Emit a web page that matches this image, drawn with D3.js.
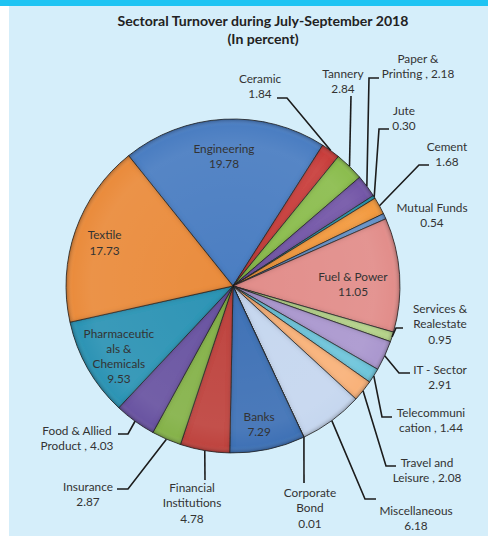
<!DOCTYPE html>
<html>
<head>
<meta charset="utf-8">
<script src="https://cdn.jsdelivr.net/npm/d3@7"></script>
<style>
  html, body { margin: 0; padding: 0; background: #ffffff; }
  svg { display: block; }
  text { font-family: Lato, "Open Sans", sans-serif; fill: #333333; }
</style>
</head>
<body>
<svg id="chart" width="488" height="538"></svg>
<script>
// Sector names and turnover shares (percent), clockwise from Engineering
const sectors = ["Engineering", "Ceramic", "Tannery", "Paper & Printing", "Jute", "Cement",
  "Mutual Funds", "Fuel & Power", "Services & Realestate", "IT - Sector", "Telecommunication",
  "Travel and Leisure", "Miscellaneous", "Corporate Bond", "Banks", "Financial Institutions",
  "Insurance", "Food & Allied Product", "Pharmaceuticals & Chemicals", "Textile"];
const shares = [19.78, 1.84, 2.84, 2.18, 0.30, 1.68, 0.54, 11.05, 0.95, 2.91, 1.44,
  2.08, 6.18, 0.01, 7.29, 4.78, 2.87, 4.03, 9.53, 17.73];
const labelLines = [
  ["Engineering", "19.78"], ["Ceramic", "1.84"], ["Tannery", "2.84"], ["Paper &", "Printing , 2.18"],
  ["Jute", "0.30"], ["Cement", "1.68"], ["Mutual Funds", "0.54"], ["Fuel & Power", "11.05"],
  ["Services &", "Realestate", "0.95"], ["IT - Sector", "2.91"], ["Telecommuni", "cation , 1.44"],
  ["Travel and", "Leisure , 2.08"], ["Miscellaneous", "6.18"], ["Corporate", "Bond", "0.01"],
  ["Banks", "7.29"], ["Financial", "Institutions", "4.78"], ["Insurance", "2.87"],
  ["Food & Allied", "Product , 4.03"], ["Pharmaceutic", "als &", "Chemicals", "9.53"], ["Textile", "17.73"]
];
const colors = ["#4b7ec2", "#c9403d", "#8cbd4f", "#7558a8", "#2fa4bd", "#f39a40",
  "#6d9bd6", "#e28e8b", "#b7d58c", "#ab98cf", "#6fc6dc", "#f9b27a",
  "#c6d7ef", "#4b7ec2", "#3f72b6", "#bf4441", "#86b34c", "#6b54a2", "#2f94b5", "#ea8c3e"];

// Layout: label placement
const W = 488, H = 538;
const cx = 233, cy = 286, R = 167;
const startDeg = -38.7;
// inside labels: radius fraction of R and a small nudge
const insideLabels = {
  "Engineering": { f: 0.78, dx: -2, dy: 0 },
  "Textile": { f: 0.815, dx: 0, dy: 2 },
  "Fuel & Power": { f: 0.72, dx: 0, dy: 6 },
  "Pharmaceuticals & Chemicals": { f: 0.80, dx: 2, dy: 4 },
  "Banks": { f: 0.84, dx: -3, dy: 1 }
};
// outside labels: text centre, first-line centre and leader bend points
const outsideLabels = {
  "Ceramic": { x: 260, y: 79, pts: [[287, 98], [277, 98]] },
  "Tannery": { x: 343, y: 74, pts: [[351, 96]] },
  "Paper & Printing": { x: 418, y: 59, pts: [[369, 78], [379, 78]] },
  "Jute": { x: 404, y: 111, pts: [[379, 129], [389, 129]] },
  "Cement": { x: 447, y: 147, pts: [[419, 165], [429, 165]] },
  "Mutual Funds": { x: 432, y: 208, pts: null },
  "Services & Realestate": { x: 440, y: 309, pts: [[396, 328], [403, 328]] },
  "IT - Sector": { x: 440, y: 370, pts: [[399, 373], [410, 373]] },
  "Telecommunication": { x: 431, y: 413, pts: [[382, 417], [392, 417]] },
  "Travel and Leisure": { x: 427, y: 463, pts: [[386, 466], [396, 466]] },
  "Miscellaneous": { x: 416, y: 511, pts: [[365, 499], [376, 499]] },
  "Corporate Bond": { x: 310, y: 493, pts: [[304, 483]] },
  "Financial Institutions": { x: 192, y: 488, pts: [[205, 480]] },
  "Insurance": { x: 88, y: 487, pts: [[128, 489], [117, 489]] },
  "Food & Allied Product": { x: 77, y: 431, pts: [[128, 434], [118, 434]] }
};
const lineH = 15.2;

const svg = d3.select("#chart");

// background: white page, cyan top rule, pale blue panel
svg.append("rect").attr("width", W).attr("height", H).attr("fill", "#ffffff");
svg.append("rect").attr("x", 9).attr("y", 6).attr("width", W - 9).attr("height", H - 8).attr("fill", "#d5eefa");
svg.append("rect").attr("x", 0).attr("y", 0).attr("width", W).attr("height", 6).attr("fill", "#1fc4f3");

// soft bevel: darken the inside of each slice's edges
const defs = svg.append("defs");
const flt = defs.append("filter").attr("id", "bevel").attr("x", "-5%").attr("y", "-5%").attr("width", "110%").attr("height", "110%");
flt.append("feGaussianBlur").attr("in", "SourceAlpha").attr("stdDeviation", 2.6).attr("result", "blur");
flt.append("feComposite").attr("in", "SourceAlpha").attr("in2", "blur")
  .attr("operator", "arithmetic").attr("k1", 0).attr("k2", 1).attr("k3", -1).attr("k4", 0).attr("result", "edge");
flt.append("feFlood").attr("flood-color", "#000").attr("flood-opacity", 0.55).attr("result", "dark");
flt.append("feComposite").attr("in", "dark").attr("in2", "edge").attr("operator", "in").attr("result", "shade");
flt.append("feMerge").selectAll("feMergeNode").data(["SourceGraphic", "shade"]).join("feMergeNode").attr("in", d => d);

// gentle highlight over the pie face
const rg = defs.append("radialGradient").attr("id", "sheen").attr("cx", "50%").attr("cy", "50%").attr("r", "50%");
rg.append("stop").attr("offset", "0%").attr("stop-color", "#fff").attr("stop-opacity", 0.0);
rg.append("stop").attr("offset", "85%").attr("stop-color", "#fff").attr("stop-opacity", 0.06);
rg.append("stop").attr("offset", "96%").attr("stop-color", "#fff").attr("stop-opacity", 0.0);
rg.append("stop").attr("offset", "100%").attr("stop-color", "#000").attr("stop-opacity", 0.15);

// title
const title = svg.append("text").attr("x", 263).attr("text-anchor", "middle")
  .style("font-weight", "bold").style("font-size", "14.1px").style("fill", "#222");
title.append("tspan").attr("x", 263).attr("y", 25.5).text("Sectoral Turnover during July-September 2018");
title.append("tspan").attr("x", 263).attr("y", 44).text("(In percent)");

const rad = Math.PI / 180;
const pie = d3.pie().sort(null).value(d => d.v)
  .startAngle(startDeg * rad).endAngle(startDeg * rad + 2 * Math.PI);
const data = sectors.map((s, i) => ({ s, v: shares[i], c: colors[i], lines: labelLines[i] }));
const arcs = pie(data);
const arc = d3.arc().innerRadius(0).outerRadius(R);

const g = svg.append("g").attr("transform", `translate(${cx},${cy})`);
g.selectAll("path.slice").data(arcs).join("path")
  .attr("class", "slice")
  .attr("d", arc)
  .attr("fill", d => d.data.c)
  .attr("stroke", "#2b2b2b")
  .attr("stroke-width", 0.8)
  .attr("stroke-linejoin", "round")
  .attr("filter", "url(#bevel)");
g.append("circle").attr("r", R).attr("fill", "url(#sheen)").attr("pointer-events", "none");

// point on the rim at a slice's middle angle
function rimPoint(d, f) {
  const a = (d.startAngle + d.endAngle) / 2;
  return [cx + R * f * Math.sin(a), cy - R * f * Math.cos(a)];
}

function drawBlock(x, y0, lines) {
  const t = svg.append("text").attr("text-anchor", "middle").style("font-size", "11.8px");
  lines.forEach((ln, k) => {
    t.append("tspan").attr("x", x).attr("y", y0 + k * lineH).attr("dy", "0.36em").text(ln);
  });
}

const leader = d3.line();
arcs.forEach(d => {
  const name = d.data.s;
  if (insideLabels[name]) {
    const o = insideLabels[name];
    const [px, py] = rimPoint(d, o.f);
    const n = d.data.lines.length;
    drawBlock(px + o.dx, py + o.dy - (n - 1) * lineH / 2, d.data.lines);
  } else if (outsideLabels[name]) {
    const o = outsideLabels[name];
    if (o.pts) {
      const p0 = rimPoint(d, 1.0);
      svg.append("path").attr("d", leader([p0, ...o.pts]))
        .attr("fill", "none").attr("stroke", "#1c1c1c").attr("stroke-width", 1.6);
    }
    drawBlock(o.x, o.y, d.data.lines);
  }
});
</script>
</body>
</html>
